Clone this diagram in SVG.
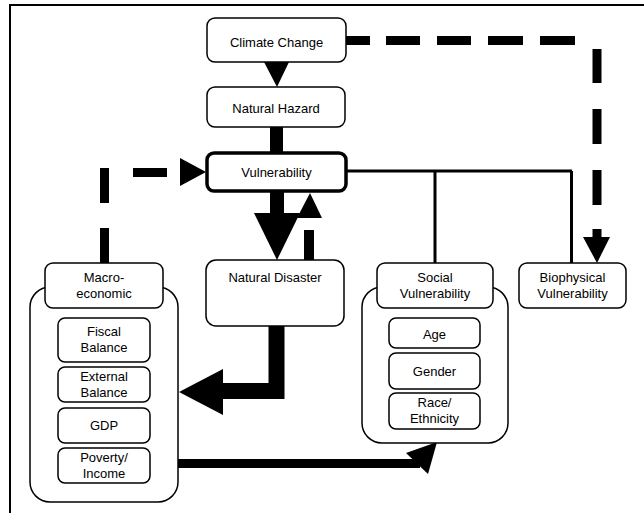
<svg xmlns="http://www.w3.org/2000/svg" width="644" height="513" viewBox="0 0 644 513">
<style>
.box{fill:#fff;stroke:#000;stroke-width:1.5}
.thick{fill:#fff;stroke:#000;stroke-width:3.5}
.t{font-family:"Liberation Sans",Arial,Helvetica,sans-serif;font-size:13px;fill:#000;text-anchor:middle}
.thin{fill:none;stroke:#000;stroke-width:3}
.dash{fill:none;stroke:#000;stroke-width:9}
.fat{fill:none;stroke:#000}
</style>
<rect width="644" height="513" fill="#fff"/>
<path d="M10,513 V5 H644" fill="none" stroke="#000" stroke-width="2"/>
<g id="connectors">
  <path class="dash" d="M346,40.5H370 M386,40.5H420 M437,40.5H471 M488,40.5H523 M540,40.5H575 M597,49V83 M597,109V144 M597,170V205 M597,229V240"/>
  <polygon points="583,237 610,237 597,263"/>
  <path class="dash" d="M104.5,263V228 M104.5,203V168 M133,172.5H167"/>
  <polygon points="180,158 180,186 206,172"/>
  <polygon points="264,62 289,62 277,87"/>
  <rect x="270" y="126" width="13" height="27"/>
  <path class="thin" d="M346,171H572 M435,171V263 M571.5,171V263"/>
  <path class="fat" stroke-width="14" d="M277,191V214"/>
  <polygon points="254,213 300,213 277,260"/>
  <path class="fat" stroke-width="10" d="M309,230V260"/>
  <polygon points="297,218 322,218 310,193"/>
  <path class="fat" stroke-width="16" d="M276.5,325V391H221"/>
  <polygon points="223,369 223,415 179,392"/>
  <path class="fat" stroke-width="9" d="M150,463.5H420"/>
  <polygon points="406,453 428,474 437,442"/>
</g>
<g id="climate-change">
  <rect class="box" x="207" y="18" width="139" height="44" rx="8"/>
  <text class="t" x="276.5" y="46.5">Climate Change</text>
</g>
<g id="natural-hazard">
  <rect class="box" x="207" y="87" width="138" height="40" rx="8"/>
  <text class="t" x="276" y="112.5">Natural Hazard</text>
</g>
<g id="vulnerability">
  <rect class="thick" x="207" y="153" width="139" height="38" rx="7"/>
  <text class="t" x="276.5" y="177">Vulnerability</text>
</g>
<g id="natural-disaster">
  <rect class="box" x="206" y="260" width="138" height="66" rx="10"/>
  <text class="t" x="275" y="281.5">Natural Disaster</text>
</g>
<g id="macroeconomic">
  <rect class="box" x="30" y="287" width="148" height="215" rx="20"/>
  <rect class="box" x="45" y="263" width="118" height="45" rx="8"/>
  <text class="t" x="104" y="281.5">Macro-</text>
  <text class="t" x="104" y="297.5">economic</text>
</g>
<g id="fiscal-balance">
  <rect class="box" x="58" y="318" width="92" height="44" rx="7"/>
  <text class="t" x="104" y="335.5">Fiscal</text>
  <text class="t" x="104" y="351.5">Balance</text>
</g>
<g id="external-balance">
  <rect class="box" x="58" y="367" width="92" height="35" rx="7"/>
  <text class="t" x="104" y="380.5">External</text>
  <text class="t" x="104" y="396.5">Balance</text>
</g>
<g id="gdp">
  <rect class="box" x="58" y="408" width="92" height="35" rx="7"/>
  <text class="t" x="104" y="430">GDP</text>
</g>
<g id="poverty-income">
  <rect class="box" x="58" y="448" width="92" height="35" rx="7"/>
  <text class="t" x="104" y="461.5">Poverty/</text>
  <text class="t" x="104" y="477.5">Income</text>
</g>
<g id="social-vulnerability">
  <rect class="box" x="362" y="287" width="146" height="156" rx="20"/>
  <rect class="box" x="377" y="263" width="116" height="45" rx="8"/>
  <text class="t" x="435" y="281.5">Social</text>
  <text class="t" x="435" y="297.5">Vulnerability</text>
</g>
<g id="age">
  <rect class="box" x="389" y="318" width="91" height="30" rx="7"/>
  <text class="t" x="434.5" y="338.5">Age</text>
</g>
<g id="gender">
  <rect class="box" x="389" y="353" width="91" height="36" rx="7"/>
  <text class="t" x="434.5" y="376">Gender</text>
</g>
<g id="race-ethnicity">
  <rect class="box" x="389" y="393" width="91" height="36" rx="7"/>
  <text class="t" x="434.5" y="406.5">Race/</text>
  <text class="t" x="434.5" y="422.5">Ethnicity</text>
</g>
<g id="biophysical-vulnerability">
  <rect class="box" x="519" y="263" width="107" height="45" rx="8"/>
  <text class="t" x="572.5" y="281.5">Biophysical</text>
  <text class="t" x="572.5" y="297.5">Vulnerability</text>
</g>
</svg>
